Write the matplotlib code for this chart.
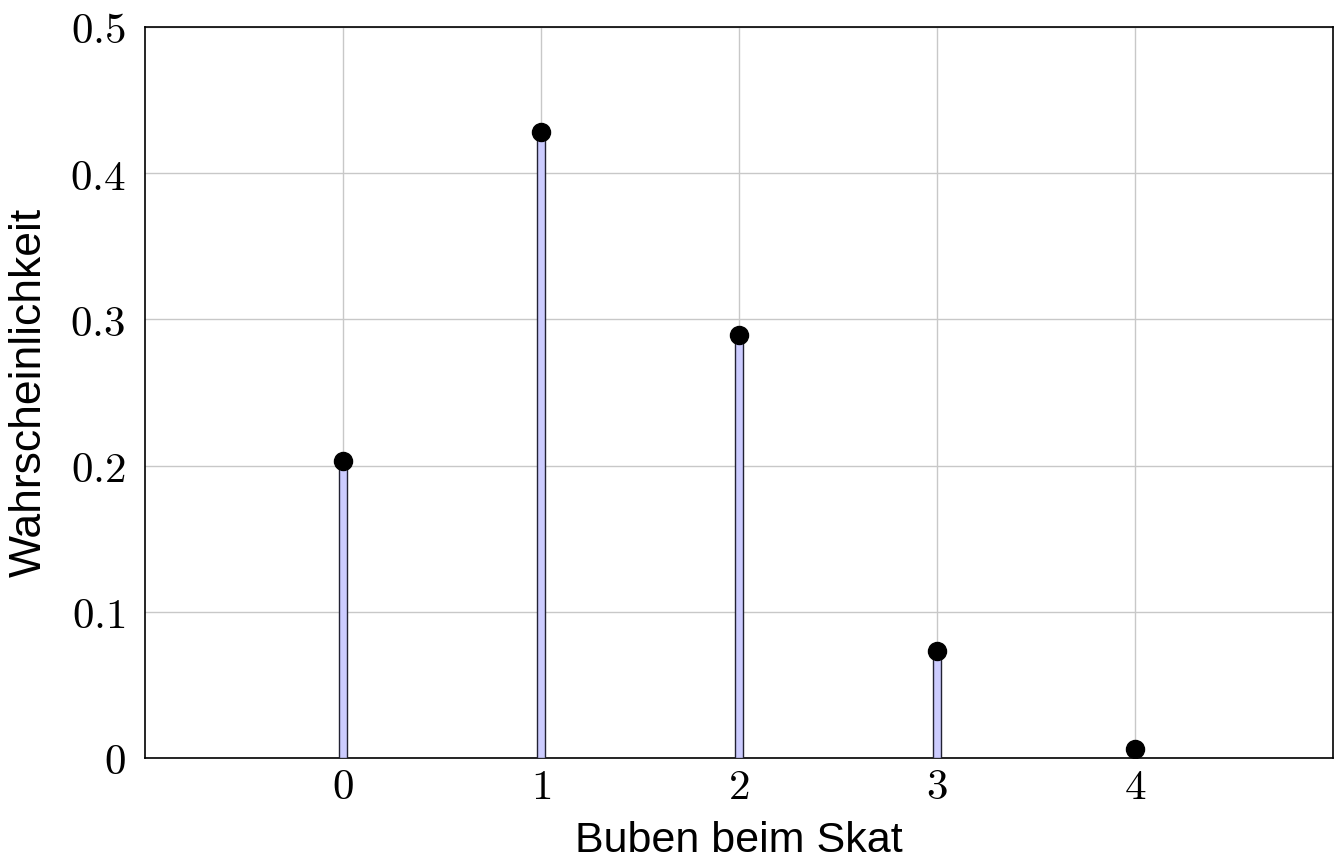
import matplotlib
matplotlib.use("Agg")
import matplotlib.pyplot as plt
from matplotlib.ticker import FuncFormatter

# ── Data ──────────────────────────────────────────────────────────────
buben = [0, 1, 2, 3, 4]
wahrscheinlichkeit = [0.203, 0.428, 0.289, 0.073, 0.006]
y_ticks = [0, 0.1, 0.2, 0.3, 0.4, 0.5]

plt.rcParams["mathtext.fontset"] = "cm"

fig = plt.figure(figsize=(13.34, 8.65), dpi=100)
ax = fig.add_axes([0.1087, 0.1237, 0.8906, 0.8451])

ax.bar(buben, wahrscheinlichkeit, width=0.04, color="#ccccff",
       edgecolor="#222233", linewidth=1.0, zorder=3)
ax.plot(buben, wahrscheinlichkeit, "o", color="black", markersize=13, zorder=4)

ax.set_xlim(-1, 5)
ax.set_ylim(0, 0.5)
ax.set_xticks(buben)
ax.set_yticks(y_ticks)
ax.xaxis.set_major_formatter(FuncFormatter(lambda v, p: f"${v:g}$"))
ax.yaxis.set_major_formatter(FuncFormatter(lambda v, p: f"${v:g}$"))
ax.tick_params(length=0, labelsize=31)
ax.tick_params(axis="x", pad=6)
ax.tick_params(axis="y", pad=14)
ax.grid(True, color="#c8c8c8", linewidth=1.0, zorder=0)
ax.set_axisbelow(True)
for s in ax.spines.values():
    s.set_linewidth(1.2)

ax.set_xlabel("Buben beim Skat", fontsize=31, family="Liberation Sans", labelpad=9)
ax.set_ylabel("Wahrscheinlichkeit", fontsize=32, family="Liberation Sans", labelpad=14)

fig.savefig("out.png", dpi=100)
